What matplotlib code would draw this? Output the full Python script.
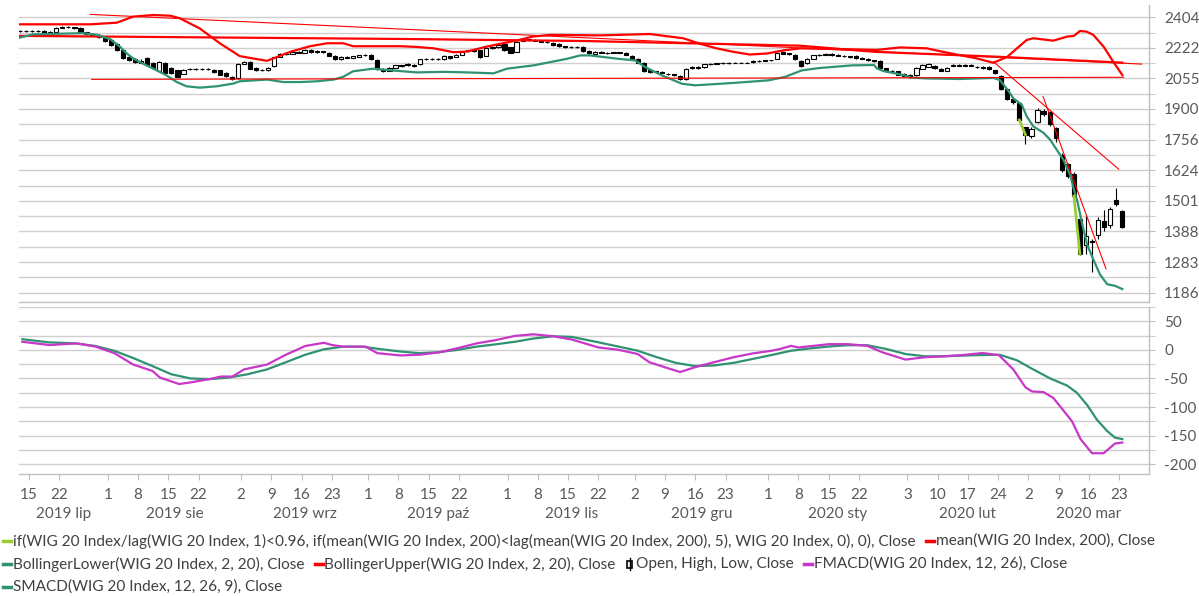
import matplotlib
matplotlib.use('Agg')
import matplotlib.pyplot as plt
import matplotlib.transforms as mtrans
from matplotlib.patches import Rectangle
from matplotlib.lines import Line2D
import numpy as np
import pandas as pd

plt.rcParams['font.family'] = ['Lato', 'DejaVu Sans']

# ---- data: WIG 20 daily candles, one slot per weekday 2019-07-11 .. 2020-03-23
days = pd.bdate_range('2019-07-11', '2020-03-23')

opens = [
    2322, 2320, 2322, 2318, 2322, 2310, 2314, 2340, 2345, 2342, 2340, 2312, 2305, 2300, 2285,
    2268, 2245, 2210, 2170, 2160, 2140, 2165, 2140, 2092, 2140, 2110, 2098, 2080, 2105, 2108, 2104, 2106, 2100, 2098, 2085, 2062, 2055,
    2135, 2145, 2110, 2100, 2098, 2120, 2173, 2190, 2190, 2196, 2196, 2212, 2200, 2204, 2195, 2178, 2158, 2170, 2168, 2172, 2180,
    2183, 2155, 2108, 2095, 2112, 2125, 2135, 2128, 2132, 2160, 2162, 2160, 2160, 2176, 2172, 2183, 2205, 2208, 2210, 2178, 2222, 2225, 2246,
    2225, 2200, 2265, 2272, 2268, 2262, 2258, 2250, 2245, 2232, 2228, 2230, 2228, 2205, 2188, 2198, 2195, 2195, 2198, 2195, 2178,
    2162, 2140, 2100, 2092, 2090, 2080, 2076, 2068, 2052, 2110, 2115, 2115, 2132, 2135, 2136, 2137, 2140, 2140, 2140, 2142, 2150, 2150,
    2152, 2162, 2198, 2192, 2185, 2150, 2137, 2162, 2180, 2185, 2188, 2182, 2178, 2175, 2178, 2168, 2160, 2152, 2150, 2110, 2096, 2092, 2080,
    2072, 2072, 2106, 2117, 2123, 2108, 2096, 2122, 2126, 2124, 2126, 2118, 2115, 2117, 2098, 2069, 2000, 1950, 1930, 1812,
    1775, 1840, 1890, 1885, 1810, 1690, 1648, 1610, 1431, 1340, 1355, 1375, 1424, 1411, 1504, 1463,
]
highs = [
    2326, 2325, 2327, 2325, 2324, 2318, 2346, 2350, 2349, 2346, 2344, 2316, 2309, 2302, 2288,
    2272, 2248, 2212, 2175, 2166, 2158, 2170, 2144, 2150, 2144, 2114, 2101, 2105, 2112, 2113, 2112, 2110, 2104, 2101, 2088, 2066, 2140,
    2149, 2148, 2114, 2106, 2114, 2173, 2194, 2195, 2202, 2204, 2216, 2215, 2208, 2207, 2198, 2181, 2176, 2174, 2178, 2184, 2189,
    2186, 2158, 2112, 2116, 2128, 2129, 2139, 2132, 2162, 2166, 2165, 2164, 2180, 2179, 2186, 2204, 2212, 2212, 2213, 2226, 2234, 2244, 2250,
    2228, 2261, 2276, 2276, 2272, 2266, 2261, 2254, 2248, 2236, 2234, 2234, 2231, 2208, 2204, 2202, 2199, 2201, 2201, 2198, 2181,
    2165, 2143, 2104, 2096, 2094, 2084, 2080, 2071, 2109, 2119, 2119, 2134, 2139, 2140, 2141, 2143, 2142, 2142, 2142, 2154, 2155, 2153,
    2154, 2199, 2202, 2195, 2189, 2153, 2164, 2184, 2189, 2192, 2191, 2186, 2182, 2179, 2181, 2171, 2163, 2157, 2152, 2113, 2100, 2095, 2084,
    2076, 2114, 2132, 2139, 2127, 2111, 2114, 2132, 2130, 2130, 2130, 2122, 2119, 2120, 2101, 2072, 2004, 1956, 1934, 1816,
    1815, 1905, 1898, 1892, 1815, 1695, 1655, 1618, 1440, 1445, 1362, 1440, 1466, 1478, 1550, 1468,
]
lows = [
    2316, 2316, 2315, 2314, 2306, 2305, 2312, 2336, 2337, 2333, 2308, 2300, 2296, 2281, 2258,
    2236, 2205, 2160, 2150, 2138, 2136, 2124, 2108, 2088, 2083, 2078, 2060, 2076, 2100, 2100, 2100, 2099, 2084, 2072, 2064, 2046, 2052,
    2132, 2104, 2096, 2093, 2095, 2117, 2170, 2183, 2186, 2192, 2193, 2196, 2196, 2195, 2174, 2154, 2155, 2164, 2165, 2170, 2177,
    2156, 2101, 2088, 2092, 2109, 2116, 2121, 2118, 2129, 2156, 2156, 2154, 2157, 2161, 2169, 2180, 2201, 2201, 2168, 2175, 2219, 2222, 2206,
    2192, 2197, 2261, 2264, 2260, 2254, 2252, 2234, 2230, 2224, 2224, 2224, 2201, 2188, 2185, 2191, 2188, 2191, 2192, 2181, 2158,
    2136, 2091, 2086, 2084, 2082, 2072, 2068, 2045, 2049, 2106, 2108, 2112, 2128, 2131, 2132, 2134, 2138, 2138, 2138, 2139, 2145, 2148,
    2150, 2158, 2186, 2182, 2156, 2117, 2134, 2159, 2176, 2181, 2178, 2174, 2171, 2168, 2161, 2158, 2148, 2146, 2106, 2090, 2088, 2071, 2066,
    2058, 2069, 2103, 2114, 2106, 2092, 2093, 2119, 2120, 2120, 2120, 2111, 2108, 2101, 2078, 1996, 1945, 1926, 1843, 1735,
    1762, 1835, 1868, 1820, 1745, 1618, 1592, 1508, 1305, 1310, 1252, 1360, 1390, 1400, 1483, 1400,
]
closes = [
    2320, 2322, 2318, 2322, 2310, 2314, 2340, 2345, 2342, 2338, 2312, 2305, 2300, 2285, 2262,
    2240, 2210, 2165, 2155, 2142, 2150, 2128, 2112, 2145, 2085, 2082, 2065, 2102, 2108, 2104, 2108, 2103, 2088, 2075, 2068, 2050, 2135,
    2145, 2108, 2100, 2098, 2110, 2170, 2190, 2187, 2198, 2200, 2212, 2200, 2204, 2200, 2178, 2158, 2172, 2168, 2175, 2180, 2185,
    2160, 2105, 2092, 2112, 2125, 2120, 2125, 2122, 2158, 2162, 2160, 2158, 2176, 2165, 2183, 2200, 2208, 2205, 2172, 2222, 2230, 2240, 2210,
    2196, 2257, 2272, 2268, 2264, 2258, 2255, 2238, 2234, 2228, 2230, 2228, 2205, 2192, 2200, 2195, 2192, 2198, 2196, 2185, 2162,
    2140, 2095, 2090, 2088, 2086, 2076, 2072, 2050, 2105, 2115, 2112, 2130, 2135, 2136, 2138, 2140, 2140, 2140, 2140, 2150, 2150, 2152,
    2152, 2195, 2190, 2186, 2160, 2122, 2160, 2180, 2185, 2188, 2182, 2178, 2175, 2172, 2165, 2162, 2152, 2150, 2110, 2094, 2092, 2075, 2070,
    2062, 2110, 2128, 2135, 2110, 2096, 2110, 2128, 2124, 2126, 2124, 2115, 2112, 2105, 2082, 2000, 1950, 1935, 1847, 1779,
    1805, 1895, 1875, 1826, 1765, 1625, 1600, 1520, 1310, 1372, 1350, 1429, 1403, 1470, 1489, 1405,
]

# lime "if(...)" series: only non-zero on these weekday indexes
lime_idx = [165, 166, 174, 175]
lime_val = [1847, 1779, 1520, 1310]

# indicator lines: weekday index (0 = 2019-07-11) and value
bbu_x = [0, 11.6, 16, 18.7, 22, 24.8, 26.4, 29.7, 33, 36.3, 38.5, 40.8, 42.5, 44.6, 47.9, 50.7, 53.4, 55,
         62.8, 65.5, 68.3, 71.6, 73.8, 77.1, 79.3, 82, 84.7, 87.5, 95.8, 104, 109.5, 112.3, 115, 117.8, 120.5,
         123.4, 126, 128.8, 141.5, 145.3, 149.7, 152.4, 158, 160.7, 163, 166.2, 167.3, 170.6, 172.9, 174, 175,
         176.1, 177.2, 178.9, 180.5, 182]
bbu_v = [2361, 2361, 2371, 2408, 2418, 2414, 2398, 2336, 2249, 2176, 2163, 2150, 2172, 2200, 2232, 2249, 2249, 2232,
         2232, 2228, 2220, 2198, 2202, 2230, 2246, 2265, 2288, 2298, 2295, 2303, 2278, 2246, 2220, 2200, 2185,
         2191, 2208, 2220, 2211, 2225, 2220, 2200, 2163, 2139, 2172, 2268, 2278, 2264, 2288, 2292, 2321,
         2317, 2298, 2230, 2145, 2073]

bbl_x = [0, 2.2, 10.4, 12.7, 14.9, 16.5, 17.6, 18.7, 20.3, 22.6, 24.2, 25.9, 27.5, 29.7, 32.5, 35.2, 36.3, 40.8,
         43.5, 46.3, 49, 51.8, 53.4, 55, 58.3, 60.6, 62.8, 65.5, 70, 73.8, 78.2, 80.4, 84.8, 90.3, 92.5, 94.1,
         98.8, 101.6, 103.2, 106, 109.3, 111.5, 118.1, 123.6, 126.3, 129.1, 131.8, 137.4, 141, 141.5, 142.6,
         145.9, 147, 149.7, 155.2, 160.7, 161.8, 163.2, 164, 165.4, 166.2, 167.3, 169, 170.1, 171.2, 172.3,
         173.4, 174, 174.6, 175.4, 176.2, 177.2, 178.3, 179.5, 180.8, 182]
bbl_v = [2282, 2301, 2308, 2298, 2273, 2230, 2192, 2163, 2135, 2098, 2071, 2036, 2014, 2007, 2014, 2028, 2040, 2049,
         2036, 2036, 2040, 2049, 2064, 2093, 2107, 2100, 2094, 2087, 2090, 2087, 2082, 2107, 2125, 2161, 2180, 2180,
         2161, 2152, 2116, 2071, 2027, 2019, 2032, 2045, 2063, 2098, 2110, 2125, 2127, 2108, 2094,
         2073, 2060, 2055, 2052, 2058, 2046, 1990, 1953, 1921, 1865, 1817, 1787, 1755, 1710, 1667,
         1603, 1546, 1497, 1411, 1341, 1292, 1243, 1212, 1207, 1197]

mean_x = [0, 62.8, 93.3, 128.8, 141.2, 161.8, 182]
mean_v = [2292, 2274, 2262, 2235, 2200, 2172, 2140]

# hand-drawn trend lines: start index/value -> end index/value
trend_x0 = [11.6, 11.85, 160.7, 168.9]
trend_v0 = [2422, 2050, 2145, 1962]
trend_x1 = [185.2, 182.2, 181.4, 179.3]
trend_v1 = [2132, 2061, 1628, 1261]

smacd_x = [0.4, 4.9, 9.3, 12.5, 15.6, 18.7, 21.9, 25, 28.2, 31.3, 34.5, 37.6, 40.8, 43.9, 47.1, 50.2, 53.4, 56.5,
           59.7, 62.8, 65.9, 69.1, 72.2, 75.4, 78.5, 81.7, 84.8, 88, 91.1, 95.5, 102, 105.2, 108.3, 111.5, 114.6,
           117.8, 121, 124.1, 127.3, 130.4, 133.6, 136.7, 139.9, 143.1, 146.2, 149.4, 152.5, 155.7, 158.9, 161.8,
           164.6, 167.3, 170.1, 172.9, 174.5, 176.2, 177.8, 179.5, 180.8, 182]
smacd_v = [18.7, 13.1, 11.4, 6.8, -1.7, -14.2, -28.4, -42.6, -50, -51.1, -48.3, -42.6, -34.1, -21.6, -8.5, 1.1, 5.7, 5.7,
           1.1, -2.8, -5.7, -4, 0, 5.7, 9.7, 14.2, 19.9, 23.9, 22.7, 13.3, -1.5, -12.9, -22.7, -28.4, -27.2,
           -22.7, -15.8, -8.9, -1.5, 2.5, 6, 8.2, 8.2, 1.4, -7.2, -11.2, -11.2, -10, -8.9, -8.6,
           -18.2, -34.2, -50, -62.5, -75, -96.5, -122, -142, -153.5, -156]

fmacd_x = [0.4, 4.9, 9.3, 12.5, 15.6, 18.7, 21.9, 23.1, 26.3, 28.2, 31.3, 33.2, 35.1, 37, 40.8, 43.9, 47.1, 50.2,
           51.5, 53.4, 57.1, 59, 62.8, 65.9, 69.1, 72.2, 75.4, 78.5, 81.7, 84.8, 88, 91.1, 95.5, 98.8, 102, 103.9,
           106.4, 109, 111.5, 114.6, 117.8, 121, 124.1, 125.4, 127.3, 128.5, 131, 133.6, 136.7, 139.9, 142.4,
           146.2, 149.4, 152.5, 155.7, 158.9, 161.6, 164, 166, 167.1, 169, 170.6, 172, 173.7, 175.1, 177, 178.9,
           180.8, 182]
fmacd_v = [14.2, 8.5, 11.4, 5.7, -5.7, -25.6, -36.9, -48.3, -59.7, -56.8, -51.1, -46.6, -46.6, -34.1, -25.6, -8.5, 6.8, 12.5,
           8.5, 5.7, 5.7, -5.7, -9.7, -8.5, -4.5, 2.8, 11.4, 17, 24.4, 27.3, 23.9, 18.2, 4.3, 0.2, -7.2, -21.5,
           -30.1, -38.7, -30.1, -21.5, -12.9, -6.1, -1.5, 1.4, 7.1, 4.2, 7.1, 10, 10, 7.1, -4.3,
           -16.9, -12.9, -11.2, -8.9, -5.5, -9, -34.2, -65.4, -72.7, -73.9, -84, -102.3, -125, -156, -180.7, -180.7,
           -163.7, -162]

price_ticks = [1186, 1283, 1388, 1501, 1624, 1756, 1900, 2055, 2222, 2404]
macd_ticks = [-200, -150, -100, -50, 0, 50]

month_keys = ['2019-07', '2019-08', '2019-09', '2019-10', '2019-11', '2019-12', '2020-01', '2020-02', '2020-03']
month_labels = ['2019 lip', '2019 sie', '2019 wrz', '2019 paź', '2019 lis', '2019 gru', '2020 sty', '2020 lut', '2020 mar']
tick_days = [[15, 22], [1, 8, 15, 22], [2, 9, 16, 23], [1, 8, 15, 22], [1, 8, 15, 22],
             [2, 9, 16, 23], [1, 8, 15, 22], [3, 10, 17, 24], [2, 9, 16, 23]]

# ---- colours
RED = '#FF0000'
GREEN = '#2F9273'
MAGENTA = '#C837C8'
LIME = '#9ACD32'
GRID = '#CFCFCF'
AXIS = '#BFBFBF'
TXT = '#595959'

W, H = 1199, 596
fig = plt.figure(figsize=(W / 100, H / 100), dpi=100)


def box(x0, y0, x1, y1):
    return [x0 / W, 1 - y1 / H, (x1 - x0) / W, (y1 - y0) / H]


ax1 = fig.add_axes(box(19, 5, 1149, 302))
ax2 = fig.add_axes(box(19, 307, 1149, 474), sharex=ax1)
XMIN, XMAX = -0.15, 186.4

# ---- price panel
x = np.arange(len(days))
o, h, l, c = (np.array(a, dtype=float) for a in (opens, highs, lows, closes))
ax1.vlines(x, l, h, color='black', lw=0.8, zorder=3)
ax1.bar(x, np.abs(c - o), bottom=np.minimum(o, c), width=0.7,
        color=np.where(c >= o, 'white', 'black'), edgecolor='black', lw=0.8, zorder=4)

lime = np.full(len(days), np.nan)
lime[lime_idx] = lime_val
ax1.plot(x, lime, color=LIME, lw=2, zorder=7)

ax1.plot(mean_x, mean_v, color=RED, lw=1.6, zorder=6)
ax1.plot(bbu_x, bbu_v, color=RED, lw=1.6, zorder=6)
ax1.plot(bbl_x, bbl_v, color=GREEN, lw=1.6, zorder=6)
for xa, va, xb, vb in zip(trend_x0, trend_v0, trend_x1, trend_v1):
    ax1.plot([xa, xb], [va, vb], color=RED, lw=0.8, zorder=6)

ax1.set_yscale('log')
ax1.set_ylim(1158, 2481)
ax1.set_yticks(price_ticks)
ax1.set_yticklabels([str(v) for v in price_ticks])
pt = np.array(price_ticks, dtype=float)
ax1.set_yticks(np.sqrt(pt[:-1] * pt[1:]), minor=True)
ax1.set_yticklabels([], minor=True)

# ---- MACD panel
ax2.plot(smacd_x, smacd_v, color=GREEN, lw=1.6)
ax2.plot(fmacd_x, fmacd_v, color=MAGENTA, lw=1.6)
ax2.set_ylim(-217, 67.5)
ax2.set_yticks(macd_ticks)
ax2.set_yticklabels([str(v) for v in macd_ticks])
ax2.set_yticks([v + 25 for v in macd_ticks], minor=True)

for ax in (ax1, ax2):
    ax.set_axisbelow(True)
    ax.grid(True, axis='y', which='both', color=GRID, lw=1.0)
    ax.yaxis.tick_right()
    ax.tick_params(axis='y', which='both', direction='out', length=4, color=AXIS,
                   labelsize=11, labelcolor=TXT, pad=7)
    for side in ('left', 'top'):
        ax.spines[side].set_visible(False)
    for side in ('right', 'bottom'):
        ax.spines[side].set_color(AXIS)
        ax.spines[side].set_linewidth(1.0)

# ---- date axis
pos = {d: i for i, d in enumerate(days)}
tick_pos, tick_lab, bounds = [], [], []
for key, dlist in zip(month_keys, tick_days):
    for d in dlist:
        tick_pos.append(pos[pd.Timestamp(f'{key}-{d:02d}')] - 0.5)
        tick_lab.append(str(d))
    bounds.append(pos[pd.Timestamp(f'{key}-{dlist[0]:02d}')] - 0.5)
bounds[0] = XMIN
bounds.append(XMAX)

ax1.set_xlim(XMIN, XMAX)
ax1.tick_params(axis='x', which='both', bottom=False, labelbottom=False)
ax2.set_xticks(tick_pos)
ax2.set_xticklabels(tick_lab)
ax2.tick_params(axis='x', direction='out', length=4, color=AXIS, labelsize=11,
                labelcolor=TXT, pad=6)

trans = mtrans.blended_transform_factory(ax2.transData, fig.transFigure)
for k, lab in enumerate(month_labels):
    ax2.text((bounds[k] + bounds[k + 1]) / 2, 1 - 514 / H, lab, transform=trans,
             ha='center', va='center', fontsize=11, color=TXT, clip_on=False)

# ---- legend, laid out row by row
rows = [
    [('line', LIME, 'if(WIG 20 Index/lag(WIG 20 Index, 1)<0.96, if(mean(WIG 20 Index, 200)<lag(mean(WIG 20 Index, 200), 5), WIG 20 Index, 0), 0), Close'),
     ('line', RED, 'mean(WIG 20 Index, 200), Close')],
    [('line', GREEN, 'BollingerLower(WIG 20 Index, 2, 20), Close'),
     ('line', RED, 'BollingerUpper(WIG 20 Index, 2, 20), Close'),
     ('candle', 'black', 'Open, High, Low, Close'),
     ('line', MAGENTA, 'FMACD(WIG 20 Index, 12, 26), Close')],
    [('line', GREEN, 'SMACD(WIG 20 Index, 12, 26, 9), Close')],
]
row_y = [541, 564, 587]
renderer = fig.canvas.get_renderer()
for items, yy in zip(rows, row_y):
    xx = 3
    yf = 1 - yy / H
    for kind, col, label in items:
        if kind == 'line':
            fig.add_artist(Line2D([xx / W, (xx + 8) / W], [yf, yf], color=col, lw=2.5,
                                  transform=fig.transFigure))
        else:
            fig.add_artist(Line2D([(xx + 4) / W] * 2, [1 - (yy - 6) / H, 1 - (yy + 6) / H],
                                  color='black', lw=1, transform=fig.transFigure))
            fig.add_artist(Rectangle(((xx + 1.5) / W, 1 - (yy + 3.5) / H), 5 / W, 7 / H,
                                     facecolor='white', edgecolor='black', lw=1.2,
                                     transform=fig.transFigure))
        t = fig.text((xx + 10) / W, yf, label, fontsize=11.1, color='#404040',
                     ha='left', va='center')
        xx = t.get_window_extent(renderer).x1 + 10

fig.savefig('out.png', dpi=100)
